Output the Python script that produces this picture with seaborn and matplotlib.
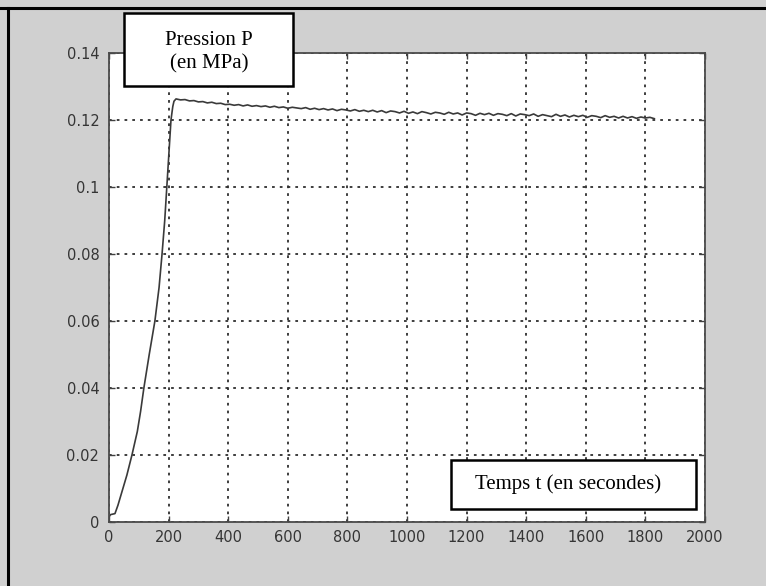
import matplotlib
matplotlib.use("Agg")
import matplotlib.pyplot as plt
from matplotlib.patches import Rectangle
from matplotlib.lines import Line2D
import seaborn as sns
import pandas as pd

# ---- data ----
rise_t = [0, 5, 20, 30, 40, 50, 60, 77, 95, 106, 117, 135, 154, 168, 178, 187, 194, 201, 208, 214, 218]
rise_p = [0.0015, 0.0022, 0.0025, 0.0050, 0.0080, 0.0110, 0.0140, 0.0200, 0.0270, 0.0330,
          0.0400, 0.0500, 0.0600, 0.0700, 0.0800, 0.0900, 0.1000, 0.1100, 0.1200, 0.1240, 0.1256]

plateau_t = list(range(225, 1831, 15))
plateau_p = [0.1263, 0.1260, 0.1261, 0.1257, 0.1258, 0.1254, 0.1255, 0.1251, 0.1253, 0.1249,
             0.1250, 0.1246, 0.1247, 0.1244, 0.1246, 0.1242, 0.1245, 0.1241, 0.1243, 0.1240,
             0.1242, 0.1238, 0.1241, 0.1237, 0.1239, 0.1235, 0.1238, 0.1236, 0.1234, 0.1237,
             0.1232, 0.1235, 0.1231, 0.1234, 0.1230, 0.1233, 0.1228, 0.1232, 0.1230, 0.1227,
             0.1231, 0.1226, 0.1229, 0.1225, 0.1229, 0.1224, 0.1228, 0.1222, 0.1227, 0.1225,
             0.1221, 0.1226, 0.1220, 0.1224, 0.1219, 0.1225, 0.1222, 0.1218, 0.1223, 0.1221,
             0.1217, 0.1223, 0.1218, 0.1221, 0.1215, 0.1221, 0.1219, 0.1214, 0.1220, 0.1216,
             0.1220, 0.1214, 0.1219, 0.1217, 0.1213, 0.1219, 0.1212, 0.1218, 0.1216, 0.1213,
             0.1218, 0.1211, 0.1216, 0.1213, 0.1210, 0.1217, 0.1211, 0.1215, 0.1209, 0.1214,
             0.1210, 0.1214, 0.1208, 0.1213, 0.1211, 0.1207, 0.1213, 0.1208, 0.1211, 0.1206,
             0.1211, 0.1206, 0.1210, 0.1205, 0.1209, 0.1206, 0.1208, 0.1204]

x_ticks = [0, 200, 400, 600, 800, 1000, 1200, 1400, 1600, 1800, 2000]
y_ticks = [0, 0.02, 0.04, 0.06, 0.08, 0.1, 0.12, 0.14]
y_tick_labels = ["0", "0.02", "0.04", "0.06", "0.08", "0.1", "0.12", "0.14"]

label_p = "Pression P\n(en MPa)"
label_t = "Temps t (en secondes)"

df = pd.DataFrame({"t": rise_t + plateau_t, "P": rise_p + plateau_p})

# ---- figure ----
W, H = 766, 586
BG = "#d0d0d0"
fig = plt.figure(figsize=(W / 100, H / 100), dpi=100, facecolor=BG)

def fx(px):
    return px / W

def fy(py):
    return 1 - py / H

ax_l, ax_r, ax_t, ax_b = 109, 705, 53, 522
ax = fig.add_axes([fx(ax_l), fy(ax_b), (ax_r - ax_l) / W, (ax_b - ax_t) / H])
ax.set_facecolor("white")

sns.lineplot(data=df, x="t", y="P", ax=ax, color="#3a3a3a", linewidth=1.2,
             estimator=None, sort=False)

ax.set_xlim(0, 2000)
ax.set_ylim(0, 0.14)
ax.set_xticks(x_ticks)
ax.set_xticklabels([str(v) for v in x_ticks])
ax.set_yticks(y_ticks)
ax.set_yticklabels(y_tick_labels)
ax.set_xlabel("")
ax.set_ylabel("")

ax.grid(True, color="#2e2e2e", linestyle=(0, (1.5, 2.8)), linewidth=1.3)
ax.set_axisbelow(True)

ax.tick_params(axis="both", which="both", direction="in", length=4, width=1,
               color="#404040", labelsize=10.5, labelcolor="#353535",
               top=True, right=True)
ax.tick_params(axis="x", pad=6)
ax.tick_params(axis="y", pad=7)
for s in ax.spines.values():
    s.set_color("#4a4a4a")
    s.set_linewidth(1.3)

# ---- outer border (top and left visible) ----
fig.add_artist(Line2D([0, 1], [fy(8), fy(8)], transform=fig.transFigure,
                      color="black", linewidth=2.2))
fig.add_artist(Line2D([fx(8), fx(8)], [0, fy(8)], transform=fig.transFigure,
                      color="black", linewidth=2.2))

# ---- text boxes ----
def box(x0, y0, x1, y1):
    fig.add_artist(Rectangle((fx(x0), fy(y1)), (x1 - x0) / W, (y1 - y0) / H,
                             transform=fig.transFigure, facecolor="white",
                             edgecolor="black", linewidth=1.8, zorder=5))

box(124, 13, 293, 86)
fig.text(fx(209), fy(52), label_p, ha="center", va="center", multialignment="center",
         family="Liberation Serif", fontsize=15, linespacing=1.3, zorder=6)

box(451, 460, 696, 509)
fig.text(fx(568), fy(484), label_t, ha="center", va="center",
         family="Liberation Serif", fontsize=15, zorder=6)

fig.savefig("out.png", dpi=100, facecolor=BG)
